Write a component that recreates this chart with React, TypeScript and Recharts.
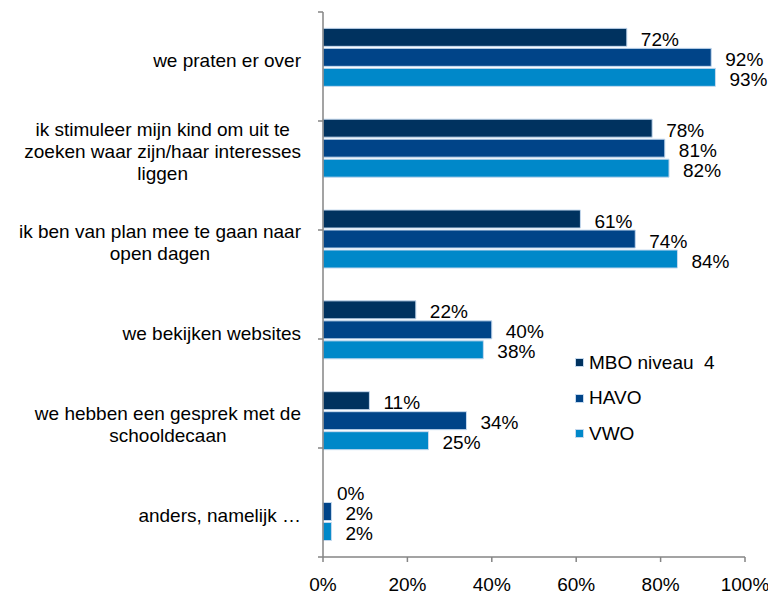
import React from 'react'
import { BarChart, Bar, XAxis, YAxis, Legend, LabelList, Cell } from 'recharts'

const categories = [
  'we praten er over',
  'ik stimuleer mijn kind om uit te\nzoeken waar zijn/haar interesses\nliggen',
  'ik ben van plan mee te gaan naar\nopen dagen',
  'we bekijken websites',
  'we hebben een gesprek met de\nschooldecaan',
  'anders, namelijk …',
]
const mbo = [72, 78, 61, 22, 11, 0]
const havo = [92, 81, 74, 40, 34, 2]
const vwo = [93, 82, 84, 38, 25, 2]
const xTicks = [0, 20, 40, 60, 80, 100]
const bandTicks = [0, 1, 2, 3, 4, 5, 6]

const series = [
  { key: 'mbo', name: 'MBO niveau  4', color: '#00325f', values: mbo },
  { key: 'havo', name: 'HAVO', color: '#004488', values: havo },
  { key: 'vwo', name: 'VWO', color: '#0088c9', values: vwo },
]

const data = categories.map((name, i) => ({ name, mbo: mbo[i], havo: havo[i], vwo: vwo[i] }))

const FONT = '"Liberation Sans", Arial, sans-serif'
const AXIS = '#858585'
const EDGE = '#c5d9ee'

let ctx: CanvasRenderingContext2D | null = null
const measure = (s: string, size: number) => {
  if (!ctx) ctx = document.createElement('canvas').getContext('2d')
  if (!ctx) return s.length * size * 0.5
  ctx.font = `${size}px "Liberation Sans"`
  return ctx.measureText(s).width
}

const CatTick = (props: any) => {
  const { x, y, payload } = props
  const lines = String(payload.value).split('\n')
  const size = 19
  const right = x - 13
  const w = Math.max(...lines.map((l) => measure(l, size)))
  const cx = right - w / 2
  const first = y + 10 - (lines.length - 1) * 11
  return (
    <text fontFamily={FONT} fontSize={size} fill="#000" textAnchor="middle">
      {lines.map((l, i) => (
        <tspan key={i} x={cx} y={first + i * 22}>{l}</tspan>
      ))}
    </text>
  )
}

const NoTick = () => <g />

const ValueLabel = (props: any) => {
  const { x, y, width, height, value } = props
  return (
    <text x={x + width + 14} y={y + height / 2 + 8.5} fontFamily={FONT} fontSize={19} fill="#000">
      {value}%
    </text>
  )
}

const LegendBox = () => (
  <div style={{ fontFamily: FONT, fontSize: 19, color: '#000' }}>
    {series.map((s) => (
      <div key={s.key} style={{ height: 35.5, display: 'flex', alignItems: 'center', whiteSpace: 'pre' }}>
        <span style={{ width: 9, height: 9, background: s.color, border: `1px solid ${EDGE}`, marginRight: 5, boxSizing: 'border-box' }} />
        {s.name}
      </div>
    ))}
  </div>
)

export default function App() {
  return (
    <div style={{ position: 'absolute', left: 0, top: 0, width: 768, height: 594, background: '#fff' }}>
      <BarChart
        width={768}
        height={594}
        data={data}
        layout="vertical"
        margin={{ top: 12, right: 23, left: 8, bottom: 7 }}
        barCategoryGap="18%"
        barGap={2}
      >
        <XAxis
          type="number"
          domain={[0, 100]}
          ticks={xTicks}
          tickFormatter={(v) => `${v}%`}
          height={30}
          tickSize={5}
          tickMargin={16}
          axisLine={{ stroke: AXIS, strokeWidth: 1.5 }}
          tickLine={{ stroke: AXIS, strokeWidth: 1.5 }}
          tick={{ fontFamily: FONT, fontSize: 19, fill: '#000' }}
        />
        <YAxis
          yAxisId="bnd"
          type="number"
          domain={[0, 6]}
          ticks={bandTicks}
          interval={0}
          width={1}
          tick={NoTick}
          tickSize={5}
          axisLine={{ stroke: AXIS, strokeWidth: 1.5 }}
          tickLine={{ stroke: AXIS, strokeWidth: 1.5 }}
        />
        <YAxis
          yAxisId="cat"
          type="category"
          dataKey="name"
          width={314}
          interval={0}
          axisLine={false}
          tickLine={false}
          tick={<CatTick />}
        />
        <Legend
          layout="horizontal"
          verticalAlign="middle"
          align="center"
          wrapperStyle={{ left: 575, top: 345, width: 'auto' }}
          content={<LegendBox />}
        />
        {series.map((s) => (
          <Bar
            key={s.key}
            yAxisId="cat"
            dataKey={s.key}
            name={s.name}
            fill={s.color}
            strokeWidth={1}
            minPointSize={0.01}
            isAnimationActive={false}
          >
            {s.values.map((v, i) => (
              <Cell key={i} stroke={v > 0 ? EDGE : 'none'} />
            ))}
            <LabelList dataKey={s.key} content={<ValueLabel />} />
          </Bar>
        ))}
      </BarChart>
    </div>
  )
}
